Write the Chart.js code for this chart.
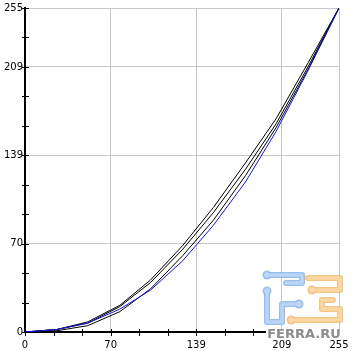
<!DOCTYPE html>
<html>
<head>
<meta charset="utf-8">
<script src="https://cdn.jsdelivr.net/npm/chart.js@4.4.1/dist/chart.umd.min.js"></script>
<style>
  html, body { margin: 0; padding: 0; background: #fff; }
  #wrap { width: 357px; height: 351px; position: relative; }
</style>
</head>
<body>
<div id="wrap"><canvas id="chart" width="357" height="351"></canvas></div>
<script>
// input levels where the curves were measured
var inputLevels = [0, 26, 51, 77, 102, 128, 153, 179, 204, 230, 255];
// output levels
var blackUpper = [0, 2, 8, 21, 41, 68, 98, 133, 168, 212, 255];
var blackSecond = [0, 2, 7, 20, 39, 65, 94, 128, 164, 209, 255];
var blackMiddle = [0, 1, 5, 16, 34, 60, 88, 123, 161, 207, 255];
var blueCurve = [0, 2, 7, 18, 33, 56, 84, 118, 158, 206, 255];

// axis ticks (same on both axes), only every third one is labelled
var tickValues = [0, 23.18, 46.36, 69.55, 92.73, 115.9, 139.1, 162.3, 185.5, 208.6, 231.8, 255];
var tickLabels = ['0', '', '', '70', '', '', '139', '', '', '209', '', '255'];

function toPoints(values) {
  return inputLevels.map(function (x, i) { return { x: x, y: values[i] }; });
}

function gridColor(ctx) {
  if (ctx.tick && tickLabels[ctx.index] !== '' && ctx.index !== 0) return '#c8c8c8';
  return 'rgba(0,0,0,0)';
}

// draws one piece of the watermark logo: dark edge, light body
function logoPath(c, pts, dots, edge, body) {
  [[edge, 6, 4.5], [body, 3.5, 3]].forEach(function (s) {
    c.strokeStyle = s[0];
    c.fillStyle = s[0];
    c.lineWidth = s[1];
    c.lineJoin = 'round';
    c.lineCap = 'round';
    c.beginPath();
    c.moveTo(pts[0][0], pts[0][1]);
    for (var i = 1; i < pts.length; i++) c.lineTo(pts[i][0], pts[i][1]);
    c.stroke();
    dots.forEach(function (d) {
      c.beginPath();
      c.arc(d[0], d[1], s[2], 0, Math.PI * 2);
      c.fill();
    });
  });
}

// small tick marks crossing both axes, plus the site watermark
var crossTicks = {
  id: 'crossTicks',
  afterDraw: function (chart) {
    var c = chart.ctx, area = chart.chartArea;
    var xs = chart.scales.x, ys = chart.scales.y;
    c.save();
    c.strokeStyle = '#000';
    c.lineWidth = 1;
    c.beginPath();
    tickValues.forEach(function (v) {
      var px = Math.round(xs.getPixelForValue(v)) + 0.5;
      c.moveTo(px, area.bottom - 3);
      c.lineTo(px, area.bottom + 4);
      var py = Math.round(ys.getPixelForValue(v)) + 0.5;
      c.moveTo(area.left - 3, py);
      c.lineTo(area.left + 4, py);
    });
    c.stroke();

    c.globalAlpha = 0.8;
    logoPath(c, [[267, 275], [302, 275], [302, 283], [286, 283]], [[267, 275]], '#7eaeea', '#c4dbf7');
    logoPath(c, [[267, 291], [267, 322], [282, 322], [282, 304], [299, 304]], [[267, 291], [299, 304]], '#7eaeea', '#c4dbf7');
    logoPath(c, [[308, 278], [340, 278], [340, 290], [312, 290]], [[312, 290]], '#f0b866', '#fbdcae');
    logoPath(c, [[291, 320], [340, 320], [340, 309], [322, 309], [322, 300], [333, 300]], [[291, 320]], '#f0b866', '#fbdcae');
    c.globalAlpha = 1;
    c.fillStyle = '#fff';
    c.fillRect(266, 329, 78, 10);
    c.font = 'bold 13px "DejaVu Sans"';
    c.fillStyle = '#8c8c8c';
    c.textAlign = 'center';
    c.fillText('FERRA.RU', 304, 338);
    c.restore();
  }
};

var lineStyle = function (label, data, color) {
  return {
    label: label,
    data: toPoints(data),
    borderColor: color,
    backgroundColor: color,
    borderWidth: 1,
    pointRadius: 0,
    tension: 0,
    fill: false
  };
};

var axisBase = {
  type: 'linear',
  min: 0,
  max: 255,
  afterBuildTicks: function (scale) {
    scale.ticks = tickValues.map(function (v) { return { value: v }; });
  },
  grid: { color: gridColor, drawTicks: false, lineWidth: 1 },
  border: { display: true, color: '#000', width: 2 }
};

new Chart(document.getElementById('chart').getContext('2d'), {
  type: 'line',
  data: {
    datasets: [
      lineStyle('Blue', blueCurve, '#1414e6'),
      lineStyle('Middle', blackMiddle, '#000'),
      lineStyle('Second', blackSecond, '#000'),
      lineStyle('Upper', blackUpper, '#000')
    ]
  },
  options: {
    responsive: false,
    animation: false,
    layout: { padding: { top: 8, right: 18, left: 0, bottom: 0 } },
    plugins: { legend: { display: false }, tooltip: { enabled: false } },
    scales: {
      x: Object.assign({}, axisBase, {
        afterFit: function (scale) { scale.height = 19; },
        ticks: {
          autoSkip: false,
          maxRotation: 0,
          padding: 7,
          color: '#000',
          font: { family: 'DejaVu Sans', size: 10 },
          callback: function (value, index) { return tickLabels[index]; }
        }
      }),
      y: Object.assign({}, axisBase, {
        afterFit: function (scale) { scale.width = 25; },
        ticks: {
          autoSkip: false,
          padding: 2,
          color: '#000',
          font: { family: 'DejaVu Sans', size: 10 },
          callback: function (value, index) { return tickLabels[index]; }
        }
      })
    }
  },
  plugins: [crossTicks]
});
</script>
</body>
</html>
